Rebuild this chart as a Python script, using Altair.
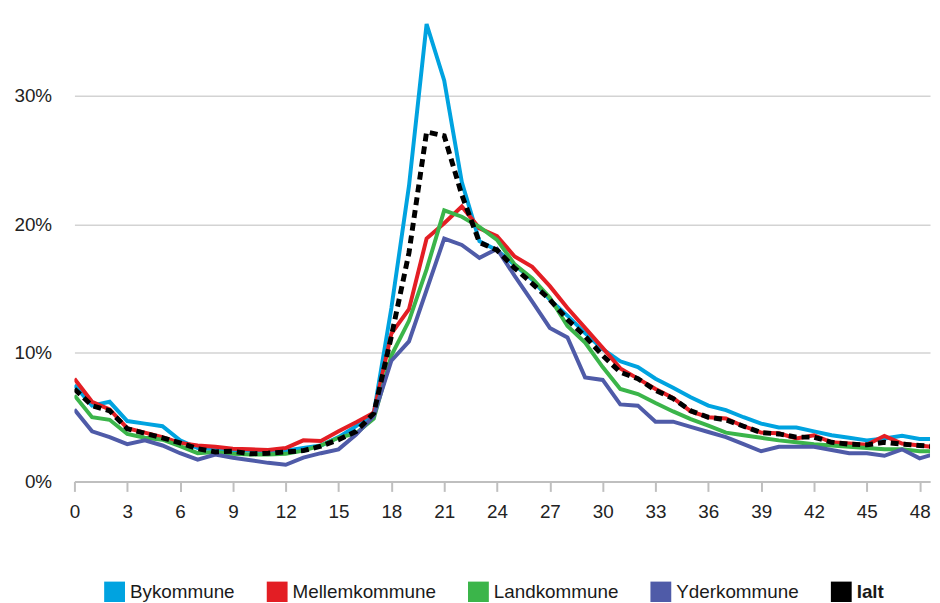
import altair as alt
import pandas as pd

hours = list(range(50))
series = ["Bykommune", "Mellemkommune", "Landkommune", "Yderkommune", "Ialt"]
colors = ["#00a3e0", "#e31e24", "#3bb54a", "#4f5ba8", "#000000"]

byk = [7.5, 5.9, 6.2, 4.7, 4.5, 4.3, 3.2, 2.6, 2.5, 2.45,
       2.4, 2.35, 2.4, 2.6, 2.8, 3.45, 4.3, 5.3, 13.5, 23.0,
       35.6, 31.2, 23.3, 18.7, 18.0, 16.85, 15.7, 14.15, 12.9, 11.55,
       10.3, 9.35, 8.9, 8.0, 7.3, 6.55, 5.9, 5.55, 5.0, 4.5,
       4.2, 4.2, 3.9, 3.6, 3.4, 3.2, 3.35, 3.55, 3.3, 3.3]
mel = [8.0, 6.2, 5.6, 4.15, 3.8, 3.45, 3.0, 2.8, 2.7, 2.55,
       2.5, 2.45, 2.6, 3.2, 3.15, 3.9, 4.6, 5.35, 11.5, 13.4,
       18.9, 20.1, 21.4, 19.7, 19.1, 17.5, 16.7, 15.2, 13.5, 11.95,
       10.4, 8.8, 8.0, 7.2, 6.5, 5.45, 5.0, 4.9, 4.3, 3.8,
       3.75, 3.35, 3.6, 3.05, 2.95, 2.85, 3.55, 2.95, 2.8, 2.65]
land = [6.7, 5.0, 4.8, 3.7, 3.4, 3.25, 2.75, 2.2, 2.3, 2.15,
        2.1, 2.1, 2.15, 2.4, 2.8, 3.4, 3.75, 4.9, 9.8, 12.5,
        16.5, 21.1, 20.6, 19.8, 18.8, 16.9, 15.8, 14.3, 12.1, 10.8,
        8.9, 7.2, 6.8, 6.1, 5.45, 4.85, 4.35, 3.8, 3.6, 3.4,
        3.2, 3.05, 2.9, 2.8, 2.7, 2.6, 2.5, 2.5, 2.35, 2.35]
yder = [5.6, 3.9, 3.45, 2.9, 3.2, 2.8, 2.2, 1.7, 2.1, 1.85,
        1.65, 1.45, 1.3, 1.85, 2.2, 2.5, 3.65, 5.1, 9.4, 10.9,
        14.9, 18.9, 18.4, 17.4, 18.1, 16.0, 14.0, 11.95, 11.2, 8.1,
        7.9, 6.0, 5.9, 4.65, 4.65, 4.25, 3.85, 3.45, 2.9, 2.35,
        2.7, 2.7, 2.7, 2.45, 2.2, 2.2, 2.0, 2.5, 1.8, 2.2]
ialt = [7.2, 5.9, 5.5, 4.1, 3.75, 3.4, 3.0, 2.55, 2.3, 2.35,
        2.15, 2.2, 2.3, 2.4, 2.75, 3.25, 3.9, 5.3, 11.3, 17.8,
        27.2, 26.9, 22.3, 18.6, 18.0, 16.6, 15.4, 14.15, 12.6, 11.3,
        9.8, 8.5, 8.0, 7.1, 6.45, 5.5, 5.0, 4.8, 4.3, 3.8,
        3.7, 3.45, 3.45, 3.05, 2.9, 2.85, 3.05, 2.9, 2.8, 2.7]

x_ticks = list(range(0, 49, 3))
y_ticks = [0, 0.1, 0.2, 0.3]

rows = []
for name, vals in zip(series, [byk, mel, land, yder, ialt]):
    for h, v in zip(hours, vals):
        rows.append({"time": h, "andel": v / 100, "serie": name})
df = pd.DataFrame(rows)

FONT = "Liberation Sans"

x_enc = alt.X("time:Q",
              scale=alt.Scale(domain=[0, 48.59], nice=False, zero=False),
              axis=alt.Axis(values=x_ticks, title=None, grid=False,
                            domainColor="#bfbfbf", domainWidth=2,
                            tickColor="#bfbfbf", tickWidth=2, tickSize=10,
                            labelFont=FONT, labelFontSize=19, labelColor="#222222",
                            labelPadding=11, labelFlush=False))
y_enc = alt.Y("andel:Q",
              scale=alt.Scale(domain=[0, 0.3595], nice=False),
              axis=alt.Axis(values=y_ticks, format=".0%", title=None,
                            domain=False, ticks=False, grid=True,
                            gridColor="#d3d3d3", gridWidth=1.5,
                            labelFont=FONT, labelFontSize=19, labelColor="#222222",
                            labelPadding=23))
color_scale = alt.Scale(domain=series, range=colors)

base = alt.Chart(df)

colored = base.transform_filter("datum.serie !== 'Ialt'").mark_line(
    clip=True, strokeWidth=4
).encode(
    x=x_enc, y=y_enc,
    color=alt.Color("serie:N", scale=color_scale, legend=None),
)

total = base.transform_filter("datum.serie === 'Ialt'").mark_line(
    clip=True, strokeWidth=5, strokeDash=[8, 5]
).encode(
    x=x_enc, y=y_enc,
    color=alt.Color("serie:N", scale=color_scale, legend=None),
)

legend_layer = base.mark_square(
    filled=True, opacity=1, size=0
).encode(
    x=x_enc, y=y_enc,
    color=alt.Color("serie:N", scale=color_scale,
                    legend=alt.Legend(
                        orient="none", legendX=30, legendY=567,
                        direction="horizontal", title=None,
                        symbolType="square", symbolSize=441,
                        symbolStrokeWidth=0, symbolOpacity=1,
                        labelFont=FONT, labelFontSize=19, labelColor="#1a1a1a",
                        labelFontWeight=alt.ExprRef(expr="datum.label === 'Ialt' ? 'bold' : 'normal'"),
                        columnPadding=32, labelOffset=5, padding=0)),
)

chart = alt.layer(colored, total, legend_layer).resolve_legend(
    color="independent"
).properties(
    width=863, height=466,
    autosize=alt.AutoSizeParams(type="none"),
    padding={"left": 67, "top": 9, "right": 2, "bottom": 119},
).configure_view(stroke=None)

chart.save("out.html", embed_options={"renderer": "svg", "actions": False})
